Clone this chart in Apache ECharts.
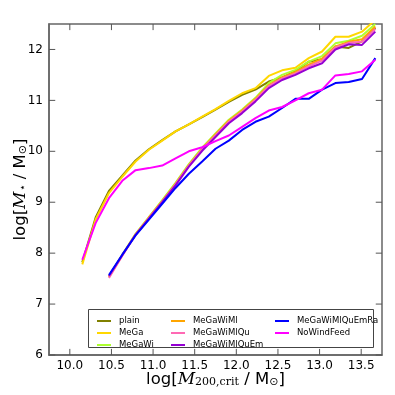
<!DOCTYPE html>
<html>
<head>
<meta charset="utf-8">
<script src="https://cdn.jsdelivr.net/npm/echarts@6/dist/echarts.min.js"></script>
<style>
  html, body { margin: 0; padding: 0; background: #fff; }
  #chart { width: 395px; height: 395px; }
</style>
</head>
<body>
<div id="chart"></div>
<script>
    // mass bins (log M200,crit)
    var massBins = [10.15, 10.31, 10.47, 10.63, 10.79, 10.95, 11.11, 11.27, 11.43, 11.59, 11.75, 11.91,
                    12.07, 12.23, 12.39, 12.55, 12.71, 12.87, 13.03, 13.19, 13.35, 13.51, 13.67];
    var xTicks = [10.0, 10.5, 11.0, 11.5, 12.0, 12.5, 13.0, 13.5];
    var yTicks = [6, 7, 8, 9, 10, 11, 12];

    // full range runs
    var plain      = [7.82, 8.70, 9.22, 9.52, 9.82, 10.04, 10.22, 10.39, 10.53, 10.67, 10.82, 10.97, 11.11, 11.21, 11.37, 11.45, 11.57, 11.76, 11.81, 12.06, 12.03, 12.16, 12.42];
    var MeGa       = [7.78, 8.66, 9.18, 9.50, 9.80, 10.03, 10.21, 10.39, 10.53, 10.68, 10.83, 10.99, 11.14, 11.24, 11.48, 11.59, 11.64, 11.83, 11.96, 12.25, 12.25, 12.35, 12.58];
    var NoWindFeed = [7.87, 8.59, 9.08, 9.42, 9.63, 9.67, 9.72, 9.86, 10.00, 10.08, 10.20, 10.31, 10.48, 10.65, 10.80, 10.87, 11.00, 11.14, 11.21, 11.49, 11.52, 11.57, 11.80];
    // runs starting at the third bin
    var MeGaWi         = [7.54, 7.97, 8.38, 8.71, 9.04, 9.38, 9.75, 10.07, 10.35, 10.62, 10.82, 11.05, 11.34, 11.50, 11.60, 11.76, 11.87, 12.12, 12.17, 12.27, 12.50];
    var MeGaWiMl       = [7.53, 7.96, 8.37, 8.70, 9.02, 9.36, 9.73, 10.05, 10.33, 10.60, 10.80, 11.03, 11.30, 11.45, 11.56, 11.70, 11.82, 12.06, 12.15, 12.20, 12.45];
    var MeGaWiMlQu     = [7.51, 7.95, 8.36, 8.69, 9.01, 9.35, 9.72, 10.04, 10.31, 10.58, 10.78, 11.01, 11.28, 11.43, 11.53, 11.67, 11.78, 12.04, 12.13, 12.15, 12.40];
    var MeGaWiMlQuEm   = [7.55, 7.96, 8.36, 8.68, 9.00, 9.33, 9.70, 10.01, 10.28, 10.55, 10.75, 10.98, 11.24, 11.40, 11.50, 11.63, 11.73, 12.00, 12.10, 12.09, 12.35];
    var MeGaWiMlQuEmRa = [7.57, 7.97, 8.35, 8.66, 8.97, 9.28, 9.56, 9.80, 10.05, 10.21, 10.42, 10.58, 10.68, 10.85, 11.03, 11.03, 11.21, 11.34, 11.36, 11.42, 11.83];

    var runs = [
        {name: 'plain', color: '#808000', y: plain},
        {name: 'MeGa', color: '#FFD700', y: MeGa},
        {name: 'MeGaWi', color: '#ADFF2F', y: MeGaWi},
        {name: 'MeGaWiMl', color: '#FFA500', y: MeGaWiMl},
        {name: 'MeGaWiMlQu', color: '#FF69B4', y: MeGaWiMlQu},
        {name: 'MeGaWiMlQuEm', color: '#9400D3', y: MeGaWiMlQuEm},
        {name: 'MeGaWiMlQuEmRa', color: '#0000FF', y: MeGaWiMlQuEmRa},
        {name: 'NoWindFeed', color: '#FF00FF', y: NoWindFeed}
    ];

    var chart = echarts.init(document.getElementById('chart'), null, {renderer: 'canvas'});
    var font = 'DejaVu Sans';
    var frame = '#666';
    var X0 = 9.75, X1 = 13.75, Y0 = 6, Y1 = 12.5;
    // tick length in axis units (about 6px each way)
    var tickX = 0.075, tickY = 0.12;

    var series = runs.map(function (r) {
        var offset = massBins.length - r.y.length;
        return {
            name: r.name,
            type: 'line',
            showSymbol: false,
            symbol: 'none',
            clip: true,
            lineStyle: {color: r.color, width: 2},
            itemStyle: {color: r.color},
            data: r.y.map(function (v, i) { return [massBins[i + offset], v]; })
        };
    });

    // inward ticks on all four sides (matplotlib style): short broken line segments
    var tickData = [];
    xTicks.forEach(function (v) {
        tickData.push([v, Y0], [v, Y0 + tickY], '-');
        tickData.push([v, Y1], [v, Y1 - tickY], '-');
    });
    yTicks.forEach(function (v) {
        tickData.push([X0, v], [X0 + tickX, v], '-');
        tickData.push([X1, v], [X1 - tickX, v], '-');
    });
    series.push({
        name: 'ticks',
        type: 'line',
        silent: true,
        z: 8,
        symbol: 'none',
        showSymbol: false,
        connectNulls: false,
        clip: false,
        lineStyle: {color: '#555', width: 1},
        itemStyle: {color: '#555'},
        data: tickData
    });

    function legendCol(left, names) {
        return {
            left: left, top: 311, orient: 'vertical', z: 10,
            itemWidth: 14, itemHeight: 2, itemGap: 2,
            icon: 'rect',
            textStyle: {fontFamily: font, fontSize: 8.5, color: '#000', lineHeight: 10, padding: [0, 0, 0, 3]},
            data: names
        };
    }

    var richBase = {
        n: {fontFamily: font, fontSize: 16.5, color: '#000', verticalAlign: 'bottom', lineHeight: 20},
        i: {fontFamily: 'DejaVu Serif', fontStyle: 'italic', fontSize: 17, color: '#000', verticalAlign: 'bottom', lineHeight: 20},
        s: {fontFamily: 'DejaVu Serif', fontSize: 11, color: '#000', verticalAlign: 'bottom', lineHeight: 13},
        o: {fontFamily: font, fontSize: 11, color: '#000', verticalAlign: 'bottom', lineHeight: 13}
    };

    var option = {
        animation: false,
        backgroundColor: '#fff',
        grid: {
            left: 49, right: 13, top: 24, bottom: 40,
            containLabel: false, outerBoundsMode: 'none',
            show: true, borderColor: frame, borderWidth: 1.5, backgroundColor: 'transparent'
        },
        legend: [
            legendCol(92, ['plain', 'MeGa', 'MeGaWi']),
            legendCol(166, ['MeGaWiMl', 'MeGaWiMlQu', 'MeGaWiMlQuEm']),
            legendCol(270, ['MeGaWiMlQuEmRa', 'NoWindFeed'])
        ],
        graphic: [{
            type: 'rect', z: 3,
            shape: {x: 88.5, y: 309.5, width: 285, height: 38},
            style: {fill: '#fff', stroke: '#444', lineWidth: 1}
        }],
        xAxis: {
            type: 'value', min: X0, max: X1,
            axisLine: {show: true, onZero: false, lineStyle: {color: frame, width: 1.5}},
            axisTick: {show: false},
            splitLine: {show: false},
            axisLabel: {
                customValues: xTicks, color: '#000', fontFamily: font, fontSize: 12, margin: 5,
                formatter: function (v) { return v.toFixed(1); }
            },
            name: '{n|log[}{i|M}{s|200,crit}{n| / M}{o|⊙}{n|]}',
            nameLocation: 'middle', nameGap: 13, nameMoveOverlap: false,
            nameTextStyle: {verticalAlign: 'top', rich: richBase}
        },
        yAxis: {
            type: 'value', min: Y0, max: Y1,
            axisLine: {show: true, onZero: false, lineStyle: {color: frame, width: 1.5}},
            axisTick: {show: false},
            splitLine: {show: false},
            axisLabel: {customValues: yTicks, color: '#000', fontFamily: font, fontSize: 12, margin: 6},
            name: '{n|log[}{i|M}{s|⋆}{n| / M}{o|⊙}{n|]}',
            nameLocation: 'middle', nameGap: 20, nameRotate: 90, nameMoveOverlap: false,
            nameTextStyle: {rich: richBase}
        },
        series: series
    };
    chart.setOption(option);
</script>
</body>
</html>
